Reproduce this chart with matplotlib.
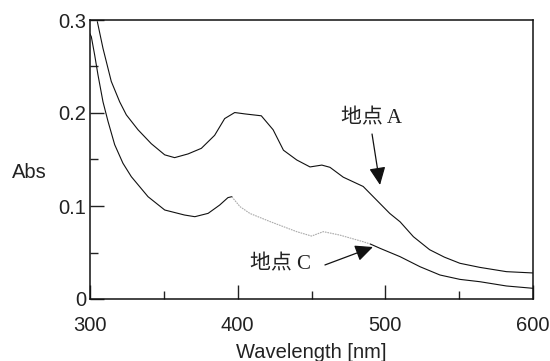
import matplotlib
matplotlib.use("Agg")
import matplotlib.pyplot as plt
from matplotlib.ticker import MultipleLocator

# ---- data ----
wl_a = [305, 308.8, 314.4, 320.1, 324.6, 332.5, 341.5, 350.6, 357.3, 366.4, 375.4,
        384.4, 391.2, 398, 405, 416, 424, 431, 440, 449, 457, 462.5, 471.5, 485,
        494, 503, 510, 519, 530, 540, 550.5, 564, 582, 600]
abs_a = [0.298, 0.2695, 0.234, 0.212, 0.198, 0.182, 0.167, 0.155, 0.152, 0.156, 0.162,
         0.176, 0.194, 0.2005, 0.199, 0.197, 0.182, 0.160, 0.1495, 0.142, 0.144, 0.1416,
         0.131, 0.121, 0.1065, 0.092, 0.083, 0.067, 0.053, 0.045, 0.0384, 0.034, 0.0294, 0.028]

wl_c1 = [300, 300.9, 303.2, 305.4, 308.8, 312.2, 316.7, 322.3, 328, 339.3, 350.6,
         364, 371, 380, 387.8, 393.4, 396]
abs_c1 = [0.285, 0.282, 0.262, 0.241, 0.212, 0.191, 0.166, 0.146, 0.1315, 0.110, 0.0957,
          0.0903, 0.0885, 0.0921, 0.101, 0.109, 0.110]

wl_c2 = [396, 401.6, 408.3, 422, 440, 450, 458, 469, 485, 490]
abs_c2 = [0.110, 0.0993, 0.092, 0.0832, 0.0724, 0.0677, 0.0724, 0.0688, 0.0616, 0.059]

wl_c3 = [490, 494, 496.4, 510, 523.5, 537, 550.5, 564, 582, 600]
abs_c3 = [0.059, 0.0562, 0.0545, 0.0455, 0.0347, 0.0258, 0.0211, 0.0186, 0.014, 0.0115]

x_ticks = [300, 400, 500, 600]
x_ticklabels = ["300", "400", "500", "600"]
y_ticks = [0, 0.1, 0.2, 0.3]
y_ticklabels = ["0", "0.1", "0.2", "0.3"]

label_a = "地点 A"
label_c = "地点 C"

plt.rcParams['font.family'] = ['Liberation Sans', 'DejaVu Sans']

fig = plt.figure(figsize=(5.5, 3.61), dpi=100)
ax = fig.add_axes([90/550, 62/361, 443/550, 279/361])

ax.plot(wl_a, abs_a, color='#111111', lw=0.8)
ax.plot(wl_c1, abs_c1, color='#111111', lw=0.8)
ax.plot(wl_c2, abs_c2, color='#aaaaaa', lw=0.8, ls=(0, (1.5, 0.8)))
ax.plot(wl_c3, abs_c3, color='#111111', lw=0.8)

ax.set_xlim(300, 600)
ax.set_ylim(0, 0.3)
ax.set_xticks(x_ticks)
ax.set_xticklabels(x_ticklabels)
ax.set_yticks(y_ticks)
ax.set_yticklabels(y_ticklabels)
ax.xaxis.set_minor_locator(MultipleLocator(50))
ax.yaxis.set_minor_locator(MultipleLocator(0.05))
ax.tick_params(axis='both', which='major', direction='in', length=10, width=1,
               labelsize=14.5, colors='#222222')
ax.tick_params(axis='both', which='minor', direction='in', length=6, width=1, colors='#222222')
ax.tick_params(axis='x', which='major', pad=12.5)
ax.tick_params(axis='y', which='major', pad=2.5)
for s in ax.spines.values():
    s.set_linewidth(1.1)
    s.set_color('#111111')

fig.text(12/550, 1 - 172/361, "Abs", fontsize=14.5, ha='left', va='center', color='#222222')
fig.text(311/550, 1 - 352/361, "Wavelength [nm]", fontsize=14.5, ha='center', va='center',
         color='#222222')

tfam = ['Liberation Serif', 'Noto Sans CJK JP']
ax.text(490.6, 0.194, label_a, fontsize=15, family=tfam, ha='center', va='center',
        color='#222222')
ax.annotate('', xy=(496.4, 0.1226), xytext=(491, 0.1774),
            arrowprops=dict(arrowstyle='-|>,head_length=1.08,head_width=0.5',
                            mutation_scale=10, color='#111111', lw=0.9,
                            shrinkA=0, shrinkB=0))
ax.text(429, 0.0362, label_c, fontsize=15, family=tfam, ha='center', va='center',
        color='#222222')
ax.annotate('', xy=(491.6, 0.0559), xytext=(459.1, 0.0366),
            arrowprops=dict(arrowstyle='-|>,head_length=1.08,head_width=0.5',
                            mutation_scale=10, color='#111111', lw=0.9,
                            shrinkA=0, shrinkB=0))

fig.savefig("out.png", dpi=100)
